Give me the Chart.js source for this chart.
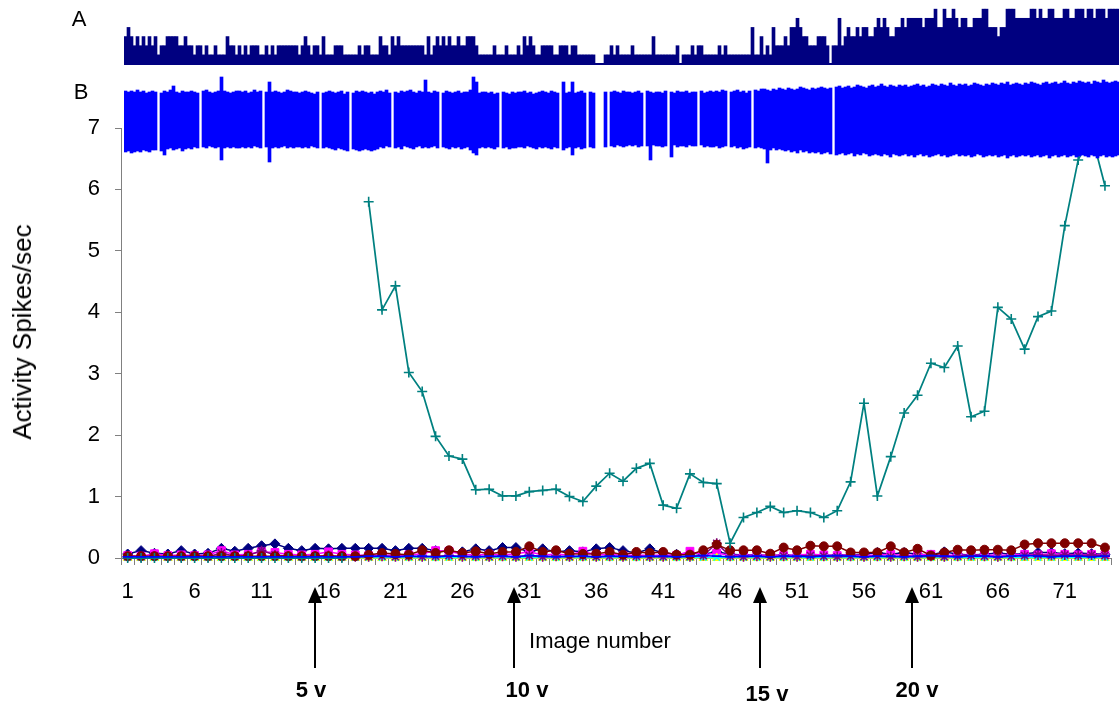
<!DOCTYPE html>
<html>
<head>
<meta charset="utf-8">
<script src="https://cdn.jsdelivr.net/npm/chart.js@4.4.1/dist/chart.umd.min.js"></script>
<style>
  html, body { margin: 0; padding: 0; background: #fff; }
  body { width: 1119px; height: 708px; position: relative; overflow: hidden; font-family: 'Liberation Sans', Arial, sans-serif; }
  canvas { position: absolute; }
  #mainChart { left: 0; top: 0; }
  #traceA { left: 124px; top: 0; }
  #traceB { left: 124px; top: 70px; }
  .lbl { position: absolute; transform: translate(-50%, -50%); white-space: nowrap; font-size: 22px; color: #000; line-height: 1; }
  .stim { font-weight: bold; }
  .ytitle { transform: translate(-50%, -50%) rotate(-90deg); font-size: 26px; }
</style>
</head>
<body>
<canvas id="mainChart" width="1119" height="708"></canvas>
<canvas id="traceA" width="996" height="66"></canvas>
<canvas id="traceB" width="996" height="100"></canvas>
<div class="lbl" style="left:79px; top:19px;">A</div>
<div class="lbl" style="left:81px; top:92px;">B</div>
<div class="lbl ytitle" style="left:22px; top:332px;">Activity Spikes/sec</div>
<div class="lbl" style="left:600px; top:641px;">Image number</div>
<div class="lbl stim" style="left:311px; top:690px;">5 v</div>
<div class="lbl stim" style="left:527px; top:690px;">10 v</div>
<div class="lbl stim" style="left:767px; top:694px;">15 v</div>
<div class="lbl stim" style="left:917px; top:690px;">20 v</div>
<script>
// image numbers (x categories)
const images = ['1','2','3','4','5','6','7','8','9','10','11','12','13','14','15','16','17','18','19','20',
  '21','22','23','24','25','26','27','28','29','30','31','32','33','34','35','36','37','38','39','40',
  '41','42','43','44','45','46','47','48','49','50','51','52','53','54','55','56','57','58','59','60',
  '61','62','63','64','65','66','67','68','69','70','71','72','73','74'];
const yTicks = [0, 1, 2, 3, 4, 5, 6, 7];

// spike rates per image, one array per unit
const unit1 = [0.065,0.12,0.076,0.065,0.12,0.065,0.076,0.157,0.11,0.157,0.2,0.23,0.157,0.12,0.157,0.15,0.157,0.157,0.157,0.157,
  0.12,0.157,0.157,0.12,0.1,0.1,0.15,0.12,0.17,0.17,0.1,0.15,0.1,0.12,0.1,0.15,0.17,0.12,0.08,0.15,
  0.08,0.06,0.08,0.06,0.1,0.06,0.05,0.05,0.04,0.05,0.04,0.05,0.04,0.05,0.05,0.06,0.09,0.06,0.09,0.06,
  0.05,0.1,0.06,0.05,0.06,0.08,0.06,0.07,0.09,0.09,0.07,0.08,0.07,0.06];
const unit2 = [0.04,0.03,0.07,0.04,0.05,0.04,0.05,0.12,0.05,0.06,0.1,0.09,0.06,0.05,0.06,0.1,0.06,0.05,0.04,0.05,
  0.04,0.05,0.07,0.12,0.11,0.06,0.05,0.06,0.05,0.07,0.1,0.05,0.06,0.05,0.11,0.05,0.06,0.04,0.05,0.04,
  0.05,0.04,0.11,0.05,0.08,0.04,0.05,0.04,0.05,0.04,0.05,0.06,0.05,0.04,0.05,0.04,0.05,0.06,0.04,0.05,
  0.06,0.04,0.05,0.04,0.05,0.04,0.05,0.06,0.05,0.07,0.06,0.05,0.06,0.05];
const unit3 = [0,0,0,0,0,0,0,0,0,0,0,0,0,0,0,0,0,0,0,0,0,0,0,0,0,0,0,0,0,0,0,0,0,0,0,0,0,
  0,0,0,0,0,0,0,0,0,0,0,0,0,0,0,0,0,0,0,0,0,0,0,0,0,0,0,0,0,0,0,0,0,0,0,0,0];
const unit4 = [0.01,0.01,0.01,0.01,0.01,0.01,0.01,0.01,0.01,0.01,0.01,0.01,0.01,0.01,0.01,0.01,0.01,0.01,0.01,0.01,
  0.01,0.01,0.01,0.01,0.01,0.01,0.01,0.01,0.01,0.01,0.01,0.01,0.01,0.01,0.01,0.01,0.01,0.01,0.01,0.01,
  0.01,0.01,0.01,0.01,0.01,0.01,0.01,0.01,0.01,0.01,0.01,0.01,0.01,0.01,0.01,0.01,0.01,0.01,0.01,0.01,
  0.01,0.01,0.01,0.01,0.01,0.01,0.01,0.01,0.01,0.01,0.01,0.01,0.01,0.01];
const unit5 = [0.02,0.02,0.03,0.02,0.02,0.03,0.02,0.08,0.03,0.04,0.12,0.05,0.03,0.02,0.03,0.04,0.02,0.02,0.02,0.03,
  0.02,0.03,0.02,0.03,0.04,0.02,0.03,0.02,0.03,0.02,0.04,0.02,0.03,0.02,0.03,0.02,0.03,0.02,0.03,0.02,
  0.02,0.03,0.02,0.04,0.24,0.03,0.02,0.03,0.02,0.03,0.02,0.04,0.03,0.02,0.03,0.02,0.03,0.02,0.03,0.02,
  0.03,0.02,0.03,0.04,0.03,0.02,0.03,0.04,0.05,0.04,0.05,0.04,0.05,0.04];
const unit6 = [0.03,0.03,0.03,0.03,0.03,0.03,0.03,0.03,0.03,0.03,0.03,0.03,0.03,0.03,0.03,0.03,0.03,0.03,0.05,0.08,
  0.065,0.054,0.125,0.081,0.125,0.081,0.108,0.07,0.098,0.098,0.19,0.098,0.125,0.07,0.065,0.07,0.098,0.054,0.098,0.081,
  0.098,0.054,0.054,0.125,0.217,0.125,0.125,0.125,0.07,0.17,0.125,0.2,0.19,0.19,0.09,0.09,0.09,0.19,0.09,0.15,
  0.04,0.09,0.135,0.125,0.135,0.135,0.125,0.22,0.24,0.24,0.24,0.24,0.24,0.17];
const unit7 = [0,0,0,0,0,0,0,0,0,0,0,0,0,0,0,0,0,null,5.80,4.04,
  4.43,3.02,2.71,1.98,1.66,1.61,1.11,1.12,1.01,1.01,1.08,1.10,1.12,1.00,0.92,1.17,1.38,1.25,1.46,1.54,
  0.86,0.81,1.37,1.23,1.21,0.24,0.66,0.74,0.84,0.74,0.77,0.74,0.66,0.77,1.24,2.52,1.01,1.65,2.36,2.65,
  3.17,3.10,3.45,2.30,2.39,4.08,3.89,3.40,3.93,4.02,5.41,6.48,6.90,6.06];
const unit8 = [0.02,0.02,0.02,0.02,0.02,0.02,0.02,0.02,0.02,0.02,0.02,0.02,0.02,0.02,0.02,0.02,0.02,0.02,0.03,0.03,
  0.02,0.03,0.03,0.02,0.03,0.03,0.02,0.03,0.03,0.02,0.04,0.03,0.02,0.03,0.03,0.02,0.03,0.03,0.02,0.03,
  0.03,0.02,0.03,0.04,0.03,0.02,0.03,0.03,0.02,0.03,0.03,0.02,0.03,0.04,0.03,0.02,0.03,0.03,0.02,0.03,
  0.04,0.03,0.02,0.03,0.03,0.02,0.03,0.04,0.03,0.02,0.03,0.03,0.02,0.03];

// stimulus steps (position on image axis) and their labels
const stimIndex = [14, 28.85, 47.25, 58.6];
const stimLabels = ['5 v', '10 v', '15 v', '20 v'];

// trace A: binned spike count (3 px bins)
const traceA = [3,4,3,2,3, 2,3,2,3,2, 3,1,2,2,3, 3,3,3,2,2, 3,2,2,1,2, 2,1,2,1,1, 2,1,1,1,3, 2,2,1,2,1,
  2,1,2,2,2, 1,1,2,1,2, 1,2,2,2,2, 2,2,2,1,2, 3,2,1,2,2, 1,3,1,1,1, 2,2,2,1,1, 1,1,1,2,1, 2,2,
  1,1,1,3,2, 2,1,3,2,3, 2,2,2,2,2, 2,2,2,1,3, 1,2,3,2,3, 2,3,2,2,3, 2,2,3,3,3, 2,1,1,1,1,
  1,2,1,1,1, 2,1,1,1,2, 1,3,2,3,2, 1,1,2,2,2, 2,1,1,2,2, 2,1,2,2,1, 1,1,1,1,1, 0,0,0,1,1, 2,1,2,
  1,1,1,1,2, 1,1,1,1,1, 1,3,1,1,1, 1,1,1,1,2, 0,1,1,1,2, 1,2,2,1,1, 1,1,1,2,1, 2,1,1,1,1,
  1,1,1,1,4, 1,1,3,1,2, 1,4,2,2,2, 3,2,4,4,5, 4,3,3,2,2, 2,3,3,3,2, 0,2,2,5,2, 3,4,3,3,4, 3,4,4,
  3,3,4,5,4, 5,4,3,3,4, 4,5,4,5,5, 5,5,5,4,5, 5,5,6,4,4, 6,5,5,6,5, 4,5,5,4,4, 5,5,5,6,6,
  4,4,4,3,4, 4,6,6,6,5, 5,5,5,5,6, 6,5,6,5,5, 6,6,5,5,5, 6,6,5,5,6, 6,6,5,6,6, 5,6,6,6,5, 6,6,6,6];

// trace B: raw signal envelope per 3 px bin (upper / lower excursion)
const traceBHigh = [29,28,29,28,30,28,29,27,28,29, 28,null,27,29,28,30,34,28,27,29,
  28,28,29,28,27,null,29,30,28,27, 28,29,43,29,28,27,28,29,29,28,
  29,27,28,30,28,29,null,28,38,28, 29,28,27,28,30,29,28,28,27,28,
  29,28,27,26,28,null,27,28,29,28, 27,28,29,26,28,null,27,29,28,29,
  28,27,28,26,28,29,28,30,27,null, 28,27,29,28,29,30,28,27,29,28,
  40,28,27,29,28,null,27,29,28,27, 28,29,27,28,28,30,43,38,27,28,
  28,27,28,26,27,null,28,27,26,28, 27,28,28,29,27,28,26,27,28,29,
  28,27,29,28,27,null,38,27,28,38, 27,28,29,27,null,28,27,null,null,null,
  28,null,28,29,28,27,29,28,28,27, 28,29,27,null,29,28,27,28,28,27,
  29,null,28,27,29,28,28,29,27,28, 28,null,29,27,28,29,28,29,28,30,
  29,null,28,29,30,28,29,27,29,null, 30,29,31,31,30,29,31,30,32,31,
  30,32,31,30,31,33,32,31,30,32, 31,32,33,32,31,32,null,33,34,32,
  33,34,32,33,35,34,33,32,34,35, 33,34,36,34,33,35,34,33,35,34,
  35,33,34,35,36,34,35,33,34,36, 35,34,36,35,34,37,35,34,36,35,
  36,34,35,37,36,35,34,36,35,37, 36,35,37,36,38,35,36,37,36,35,
  37,36,38,37,36,35,37,38,36,37, 38,36,37,39,37,36,38,37,39,38,
  37,38,36,39,38,37,40,38,37,38, 39,38];
const traceBLow = [-32,-31,-33,-32,-31,-32,-30,-31,-32,-30, -30,null,-31,-35,-29,-28,-30,-29,-28,-31,
  -29,-28,-29,-27,-28,null,-27,-28,-26,-27, -28,-27,-40,-28,-27,-28,-27,-28,-28,-27,
  -28,-27,-28,-26,-27,-28,null,-27,-42,-28, -27,-28,-27,-26,-28,-27,-28,-27,-27,-28,
  -27,-28,-26,-27,-28,null,-28,-27,-28,-29, -30,-28,-29,-30,-31,null,-29,-30,-31,-30,
  -29,-30,-31,-30,-29,-27,-28,-26,-27,null, -28,-27,-29,-26,-27,-28,-29,-27,-26,-28,
  -27,-28,-27,-26,-28,null,-27,-28,-29,-27, -28,-27,-29,-28,-27,-30,-33,-35,-28,-27,
  -28,-27,-28,-29,-27,null,-28,-27,-29,-28, -28,-27,-27,-28,-26,-27,-28,-29,-27,-28,
  -27,-28,-29,-27,-28,null,-30,-28,-27,-35, -28,-27,-29,-28,null,-27,-28,null,null,null,
  -27,null,-26,-27,-25,-26,-27,-26,-25,-26, -25,-27,-26,null,-26,-40,-25,-26,-26,-27,
  -26,null,-37,-25,-27,-26,-26,-27,-25,-26, -26,null,-25,-27,-26,-27,-27,-26,-28,-27,
  -26,null,-27,-26,-28,-27,-29,-28,-27,null, -28,-27,-28,-29,-43,-30,-28,-30,-29,-30,
  -31,-30,-32,-31,-33,-30,-32,-31,-33,-32, -33,-32,-34,-33,-32,-34,null,-35,-34,-33,
  -35,-34,-33,-36,-34,-35,-33,-34,-36,-35, -34,-35,-36,-34,-35,-37,-34,-35,-36,-35,
  -34,-36,-35,-37,-35,-34,-36,-35,-37,-36, -35,-34,-36,-35,-37,-36,-35,-34,-36,-35,
  -36,-35,-37,-36,-34,-35,-37,-36,-35,-36, -35,-37,-36,-35,-38,-36,-35,-37,-36,-35,
  -36,-35,-37,-36,-35,-37,-36,-35,-38,-36, -35,-37,-36,-35,-37,-36,-35,-37,-36,-35,
  -36,-37,-35,-36,-38,-36,-35,-37,-36,-37, -36,-35];

Chart.defaults.font.family = "'Liberation Sans', Arial, sans-serif";
Chart.defaults.color = '#000';
Chart.defaults.animation = false;

const axisGrey = '#808080';

const series = (data, color, style, radius, order, filled) => ({
    data: data,
    borderColor: color,
    backgroundColor: color,
    borderWidth: 1.5,
    pointStyle: style,
    pointRadius: radius,
    pointBorderColor: color,
    pointBackgroundColor: filled ? color : 'transparent',
    pointBorderWidth: filled ? 1 : 1.6,
    spanGaps: false,
    tension: 0,
    clip: false,
    order: order
});

// arrows below the image axis
const stimArrows = {
    id: 'stimArrows',
    afterDraw(chart) {
        const ctx = chart.ctx;
        const x = chart.scales.x;
        ctx.save();
        ctx.fillStyle = '#000';
        ctx.strokeStyle = '#000';
        ctx.lineWidth = 2;
        stimIndex.forEach(v => {
            const px = Math.round(x.getPixelForValue(v));
            ctx.beginPath();
            ctx.moveTo(px, 668);
            ctx.lineTo(px, 600);
            ctx.stroke();
            ctx.beginPath();
            ctx.moveTo(px, 587);
            ctx.lineTo(px - 7, 603);
            ctx.lineTo(px + 7, 603);
            ctx.closePath();
            ctx.fill();
        });
        ctx.restore();
    }
};

new Chart(document.getElementById('mainChart'), {
    type: 'line',
    data: {
        labels: images,
        datasets: [
            series(unit1, '#000080', 'rectRot', 5, 8, true),
            series(unit2, '#FF00FF', 'rect', 5.5, 7, true),
            series(unit3, '#FFFF00', 'triangle', 5, 6, true),
            series(unit4, '#00FFFF', 'crossRot', 4.5, 5, false),
            series(unit5, '#800080', 'star', 5, 4, false),
            series(unit6, '#800000', 'circle', 4.5, 3, true),
            Object.assign(series(unit7, '#008080', 'cross', 5, 2, false), { borderWidth: 1.75 }),
            series(unit8, '#0000FF', 'line', 5, 1, false)
        ]
    },
    options: {
        responsive: false,
        layout: { padding: { top: 128, right: 0, bottom: 0, left: 0 } },
        plugins: { legend: { display: false }, tooltip: { enabled: false } },
        scales: {
            x: {
                offset: true,
                grid: { offset: true, drawOnChartArea: false, tickLength: 7, color: axisGrey },
                border: { color: axisGrey, width: 1 },
                ticks: {
                    autoSkip: false,
                    maxRotation: 0,
                    padding: 14,
                    font: { size: 22 },
                    callback: (v, i) => (i % 5 === 0 ? images[i] : '')
                },
                afterFit: s => { s.height = 150; }
            },
            y: {
                min: yTicks[0],
                max: yTicks[yTicks.length - 1],
                grid: { drawOnChartArea: false, tickLength: 6, color: axisGrey },
                border: { color: axisGrey, width: 1 },
                ticks: { stepSize: 1, padding: 15, font: { size: 22 } },
                afterFit: s => { s.width = 121; }
            }
        }
    },
    plugins: [stimArrows]
});

// A: spike count histogram
new Chart(document.getElementById('traceA'), {
    type: 'bar',
    data: {
        labels: traceA.map((_, i) => i),
        datasets: [{
            data: traceA,
            backgroundColor: '#000080',
            borderWidth: 0,
            categoryPercentage: 1,
            barPercentage: 1
        }]
    },
    options: {
        responsive: false,
        layout: { padding: 0 },
        plugins: { legend: { display: false }, tooltip: { enabled: false } },
        scales: {
            x: {
                grid: { display: false, drawTicks: false },
                ticks: { display: false },
                border: { color: '#000080', width: 2 },
                afterFit: s => { s.height = 2; }
            },
            y: { display: false, min: 0, max: 7 }
        }
    }
});

// B: raw recording envelope
new Chart(document.getElementById('traceB'), {
    type: 'bar',
    data: {
        labels: traceBHigh.map((_, i) => i),
        datasets: [{
            data: traceBHigh.map((h, i) => (h === null ? null : [traceBLow[i], h])),
            backgroundColor: '#0000FF',
            borderWidth: 0,
            categoryPercentage: 1,
            barPercentage: 1
        }]
    },
    options: {
        responsive: false,
        layout: { padding: 0 },
        plugins: { legend: { display: false }, tooltip: { enabled: false } },
        scales: {
            x: { display: false },
            y: { display: false, min: -50, max: 50 }
        }
    }
});
</script>
</body>
</html>
